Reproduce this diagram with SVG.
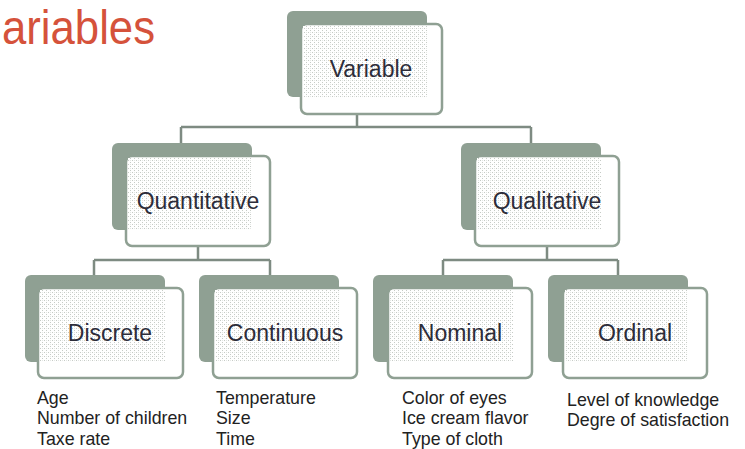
<svg xmlns="http://www.w3.org/2000/svg" width="745" height="449" viewBox="0 0 745 449">
  <defs>
    <pattern id="dots" width="4" height="4" patternUnits="userSpaceOnUse">
      <rect width="4" height="4" fill="#ffffff"/>
      <rect x="0" y="0" width="1" height="1" fill="#c6cbc6"/>
      <rect x="2" y="2" width="1" height="1" fill="#c6cbc6"/>
      <rect x="2" y="0" width="1" height="1" fill="#e4e7e4"/>
    </pattern>
    <style>
      .back { fill: #8fa093; }
      .front { fill: #ffffff; stroke: #8fa093; stroke-width: 2.5; }
      .tex { fill: url(#dots); }
      .label { font-family: "Liberation Sans", Arial, sans-serif; font-size: 23px; fill: #2d2d3a; text-anchor: middle; }
      .list { font-family: "Liberation Sans", Arial, sans-serif; font-size: 17.8px; fill: #222222; }
      .title { font-family: "Liberation Sans", Arial, sans-serif; font-size: 48px; fill: #d5523b; }
      .conn { fill: none; stroke: #7e8b82; stroke-width: 2.5; }
    </style>
  </defs>

  <rect width="745" height="449" fill="#ffffff"/>

  <text class="title" x="2" y="44" textLength="153" lengthAdjust="spacingAndGlyphs">ariables</text>

  <!-- connectors -->
  <g id="connectors">
    <path class="conn" d="M357 114 V127 M181 127 H531 M181 127 V143 M531 127 V143"/>
    <path class="conn" d="M198 246 V260 M94 260 H270 M94 260 V275 M270 260 V275"/>
    <path class="conn" d="M547 246 V260 M443 260 H618 M443 260 V275 M618 260 V275"/>
  </g>

  <g id="variable">
    <rect class="back" x="287" y="11" width="140" height="86" rx="6"/>
    <rect class="front" x="301" y="24" width="141" height="90" rx="6"/>
    <rect class="tex" x="303" y="26" width="124" height="71"/>
    <text class="label" x="371" y="77">Variable</text>
  </g>

  <g id="quantitative">
    <rect class="back" x="112" y="143" width="140" height="87" rx="6"/>
    <rect class="front" x="126" y="156" width="144" height="90" rx="6"/>
    <rect class="tex" x="128" y="158" width="124" height="72"/>
    <text class="label" x="198" y="209">Quantitative</text>
  </g>

  <g id="qualitative">
    <rect class="back" x="461" y="143" width="140" height="87" rx="6"/>
    <rect class="front" x="475" y="156" width="144" height="90" rx="6"/>
    <rect class="tex" x="477" y="158" width="124" height="72"/>
    <text class="label" x="547" y="209">Qualitative</text>
  </g>

  <g id="discrete">
    <rect class="back" x="25" y="275" width="140" height="87" rx="6"/>
    <rect class="front" x="38" y="288" width="145" height="90" rx="6"/>
    <rect class="tex" x="40" y="290" width="125" height="72"/>
    <text class="label" x="110" y="341">Discrete</text>
  </g>

  <g id="continuous">
    <rect class="back" x="199" y="275" width="140" height="87" rx="6"/>
    <rect class="front" x="213" y="288" width="144" height="90" rx="6"/>
    <rect class="tex" x="215" y="290" width="124" height="72"/>
    <text class="label" x="285" y="341">Continuous</text>
  </g>

  <g id="nominal">
    <rect class="back" x="373" y="275" width="140" height="87" rx="6"/>
    <rect class="front" x="388" y="288" width="144" height="90" rx="6"/>
    <rect class="tex" x="390" y="290" width="123" height="72"/>
    <text class="label" x="460" y="341">Nominal</text>
  </g>

  <g id="ordinal">
    <rect class="back" x="548" y="275" width="140" height="87" rx="6"/>
    <rect class="front" x="563" y="288" width="144" height="90" rx="6"/>
    <rect class="tex" x="565" y="290" width="123" height="72"/>
    <text class="label" x="635" y="341">Ordinal</text>
  </g>

  <g id="examples">
    <text class="list" x="37" y="404">Age</text>
    <text class="list" x="37" y="424">Number of children</text>
    <text class="list" x="37" y="445">Taxe rate</text>
    <text class="list" x="216" y="404">Temperature</text>
    <text class="list" x="216" y="424">Size</text>
    <text class="list" x="216" y="445">Time</text>
    <text class="list" x="402" y="404">Color of eyes</text>
    <text class="list" x="402" y="424">Ice cream flavor</text>
    <text class="list" x="402" y="445">Type of cloth</text>
    <text class="list" x="567" y="406">Level of knowledge</text>
    <text class="list" x="567" y="426">Degre of satisfaction</text>
  </g>
</svg>
